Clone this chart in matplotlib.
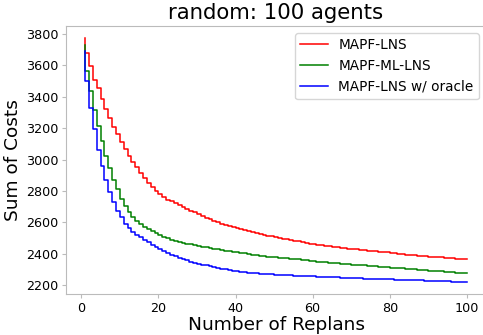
import matplotlib
matplotlib.use("Agg")
import matplotlib.pyplot as plt

replans = list(range(1, 101))

mapf_lns = [3773, 3680, 3596, 3508, 3456, 3386, 3322, 3263, 3205, 3163,
            3110, 3067, 3024, 2985, 2950, 2915, 2880, 2852, 2826, 2802,
            2780, 2760, 2742, 2735, 2722, 2710, 2698, 2686, 2674, 2663,
            2652, 2641, 2630, 2620, 2610, 2601, 2592, 2584, 2576, 2569,
            2562, 2555, 2549, 2543, 2537, 2532, 2526, 2521, 2516, 2511,
            2506, 2500, 2495, 2491, 2487, 2483, 2479, 2474, 2469, 2464,
            2460, 2456, 2453, 2450, 2447, 2444, 2441, 2438, 2435, 2433,
            2430, 2428, 2425, 2422, 2420, 2418, 2415, 2413, 2410, 2408,
            2405, 2403, 2400, 2398, 2395, 2392, 2390, 2388, 2386, 2384,
            2382, 2380, 2378, 2376, 2374, 2372, 2370, 2368, 2366, 2364]

mapf_ml_lns = [3732, 3566, 3439, 3316, 3216, 3120, 3024, 2944, 2870, 2810,
               2750, 2705, 2668, 2635, 2608, 2588, 2570, 2555, 2542, 2530,
               2518, 2508, 2499, 2490, 2482, 2475, 2469, 2464, 2460, 2455,
               2450, 2445, 2440, 2435, 2431, 2427, 2423, 2419, 2415, 2412,
               2409, 2406, 2403, 2399, 2394, 2389, 2386, 2383, 2381, 2379,
               2377, 2375, 2373, 2371, 2369, 2367, 2364, 2361, 2358, 2355,
               2353, 2350, 2348, 2345, 2343, 2341, 2338, 2336, 2334, 2332,
               2330, 2328, 2327, 2325, 2323, 2321, 2320, 2318, 2316, 2314,
               2312, 2310, 2308, 2306, 2304, 2302, 2300, 2299, 2297, 2295,
               2293, 2291, 2289, 2287, 2285, 2284, 2282, 2280, 2278, 2277]

mapf_lns_oracle = [3694, 3498, 3328, 3195, 3063, 2961, 2871, 2795, 2727, 2674,
                   2632, 2592, 2563, 2540, 2520, 2505, 2488, 2472, 2455, 2440,
                   2428, 2417, 2405, 2394, 2384, 2375, 2366, 2358, 2350, 2344,
                   2337, 2331, 2325, 2320, 2315, 2310, 2305, 2300, 2296, 2292,
                   2288, 2284, 2281, 2279, 2277, 2275, 2273, 2271, 2269, 2268,
                   2266, 2265, 2264, 2263, 2262, 2261, 2260, 2258, 2257, 2256,
                   2255, 2254, 2253, 2252, 2251, 2250, 2249, 2248, 2247, 2246,
                   2245, 2244, 2243, 2242, 2241, 2240, 2239, 2238, 2237, 2237,
                   2236, 2235, 2234, 2233, 2233, 2232, 2231, 2230, 2230, 2229,
                   2228, 2227, 2226, 2226, 2225, 2224, 2223, 2223, 2222, 2221]

labels = ["MAPF-LNS", "MAPF-ML-LNS", "MAPF-LNS w/ oracle"]
colors = ["red", "green", "blue"]
series = [mapf_lns, mapf_ml_lns, mapf_lns_oracle]

fig = plt.figure(figsize=(4.83, 3.35), dpi=100)
ax = fig.add_axes([66/483, 41/335, 420/483, 268/335])

for ys, lab, c in zip(series, labels, colors):
    ax.plot(replans, ys, drawstyle="steps-pre", color=c, lw=1.1, label=lab)

ax.set_xticks([0, 20, 40, 60, 80, 100])
ax.set_yticks(list(range(2200, 3801, 200)))
ax.tick_params(labelsize=9.2, color="#bbbbbb", length=3, pad=2.5)
for s in ax.spines.values():
    s.set_color("#bbbbbb")

ax.set_title("random: 100 agents", fontsize=15.3, pad=5)
ax.set_xlabel("Number of Replans", fontsize=13.3, labelpad=1)
ax.set_ylabel("Sum of Costs", fontsize=13.3, labelpad=2.5)
ax.legend(fontsize=9.8, loc="upper right", handlelength=2.0)

fig.savefig("out.png", dpi=100)
